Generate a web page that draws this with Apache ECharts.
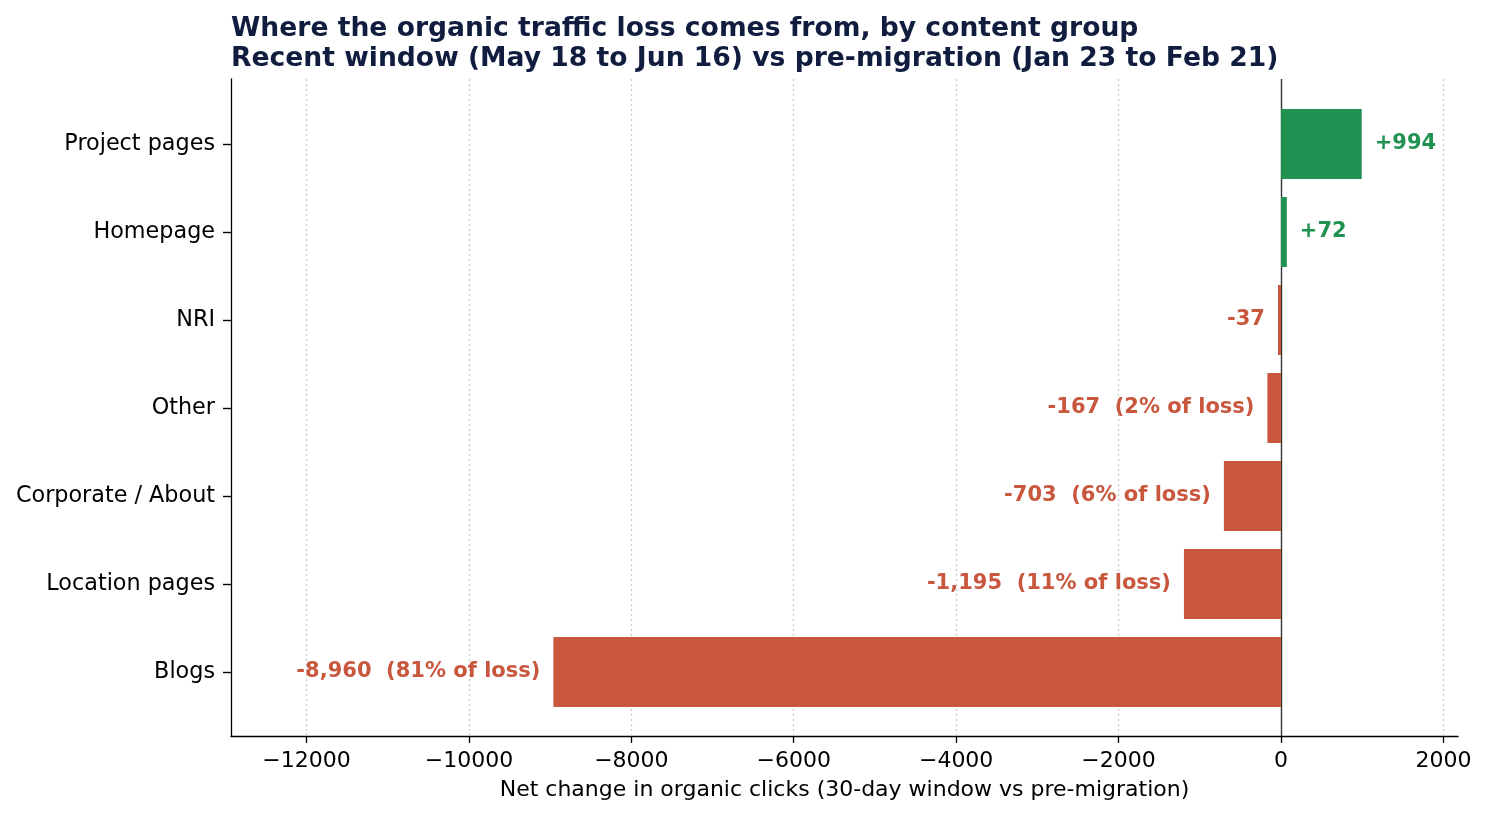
<!DOCTYPE html>
<html>
<head>
<meta charset="utf-8">
<script src="https://cdn.jsdelivr.net/npm/echarts@6/dist/echarts.min.js"></script>
<style>
  html, body { margin: 0; padding: 0; background: #fff; }
  #chart { width: 1487px; height: 816px; }
</style>
</head>
<body>
<div id="chart"></div>
<script>
// content groups, top to bottom
const categories = ['Project pages', 'Homepage', 'NRI', 'Other', 'Corporate / About', 'Location pages', 'Blogs'];
const netChange = [994, 72, -37, -167, -703, -1195, -8960];
// share of total loss (only shown for the bigger losers)
const lossShare = [null, null, null, 2, 6, 11, 81];
const xTicks = [-12000, -10000, -8000, -6000, -4000, -2000, 0, 2000];
const xMin = -12930, xMax = 2180;

const GREEN = '#1f9150';
const RED = '#c8573e';
const FONT = 'DejaVu Sans';

function barLabel(v, i) {
  let s = (v > 0 ? '+' : '-') + Math.abs(v).toLocaleString('en-US');
  if (lossShare[i] != null) s += '  (' + lossShare[i] + '% of loss)';
  return s;
}

const barData = netChange.map((v, i) => ({
  value: v,
  itemStyle: { color: v >= 0 ? GREEN : RED },
  label: {
    show: true,
    position: v >= 0 ? 'right' : 'left',
    distance: 13,
    color: v >= 0 ? GREEN : RED,
    fontWeight: 'bold',
    fontSize: 21,
    fontFamily: FONT,
    formatter: () => barLabel(v, i)
  }
}));

let chart = echarts.init(document.getElementById('chart'));
chart.setOption({
  animation: false,
  backgroundColor: '#fff',
  title: {
    text: 'Where the organic traffic loss comes from, by content group\nRecent window (May 18 to Jun 16) vs pre-migration (Jan 23 to Feb 21)',
    left: 231,
    top: 14,
    padding: 0,
    textStyle: { fontFamily: FONT, fontSize: 26.6, fontWeight: 'bold', color: '#111d3f', lineHeight: 30 }
  },
  grid: [
    { left: 231, right: 29, top: 79, bottom: 80 },
    { left: 231, right: 29, top: 100, height: 616 }
  ],
  xAxis: [
    {
      gridIndex: 0,
      type: 'value',
      min: xMin,
      max: xMax,
      name: 'Net change in organic clicks (30-day window vs pre-migration)',
      nameLocation: 'middle',
      nameGap: 43,
      nameTextStyle: { fontFamily: FONT, fontSize: 22, color: '#000' },
      axisLine: { show: true, onZero: false, lineStyle: { color: '#000', width: 1.3 } },
      axisTick: { show: true, length: 7, customValues: xTicks, lineStyle: { color: '#000', width: 1.3 } },
      axisLabel: {
        customValues: xTicks,
        margin: 14,
        fontFamily: FONT,
        fontSize: 22,
        color: '#000',
        formatter: v => String(v).replace('-', '\u2212')
      },
      splitLine: { show: false }
    },
    { gridIndex: 1, type: 'value', min: xMin, max: xMax, show: false }
  ],
  yAxis: [
    {
      gridIndex: 0,
      type: 'value',
      min: 0,
      max: 1,
      axisLine: { show: true, onZero: false, lineStyle: { color: '#000', width: 1.3 } },
      axisTick: { show: false },
      axisLabel: { show: false },
      splitLine: { show: false }
    },
    {
      gridIndex: 1,
      type: 'category',
      data: categories,
      inverse: true,
      axisLine: { show: false, onZero: false },
      axisTick: { show: true, alignWithLabel: true, length: 8, lineStyle: { color: '#000', width: 1.4 } },
      axisLabel: { margin: 16, fontFamily: FONT, fontSize: 22.3, color: '#000' }
    }
  ],
  series: [
    {
      // gridlines and zero line on the full-height grid
      type: 'scatter',
      xAxisIndex: 0,
      yAxisIndex: 0,
      data: [[0, 0.5]],
      symbolSize: 0,
      silent: true,
      z: 1,
      markLine: {
        silent: true,
        z: 1,
        symbol: 'none',
        label: { show: false },
        data: xTicks.filter(t => t !== 0).map(t => ({
          xAxis: t,
          lineStyle: { color: '#c8c8c8', type: [2, 3], width: 1.3 }
        })).concat([{ xAxis: 0, lineStyle: { color: '#333333', type: 'solid', width: 1.4 } }])
      }
    },
    {
      type: 'bar',
      xAxisIndex: 1,
      yAxisIndex: 1,
      barWidth: 70,
      data: barData,
      z: 3
    }
  ]
});
</script>
</body>
</html>
